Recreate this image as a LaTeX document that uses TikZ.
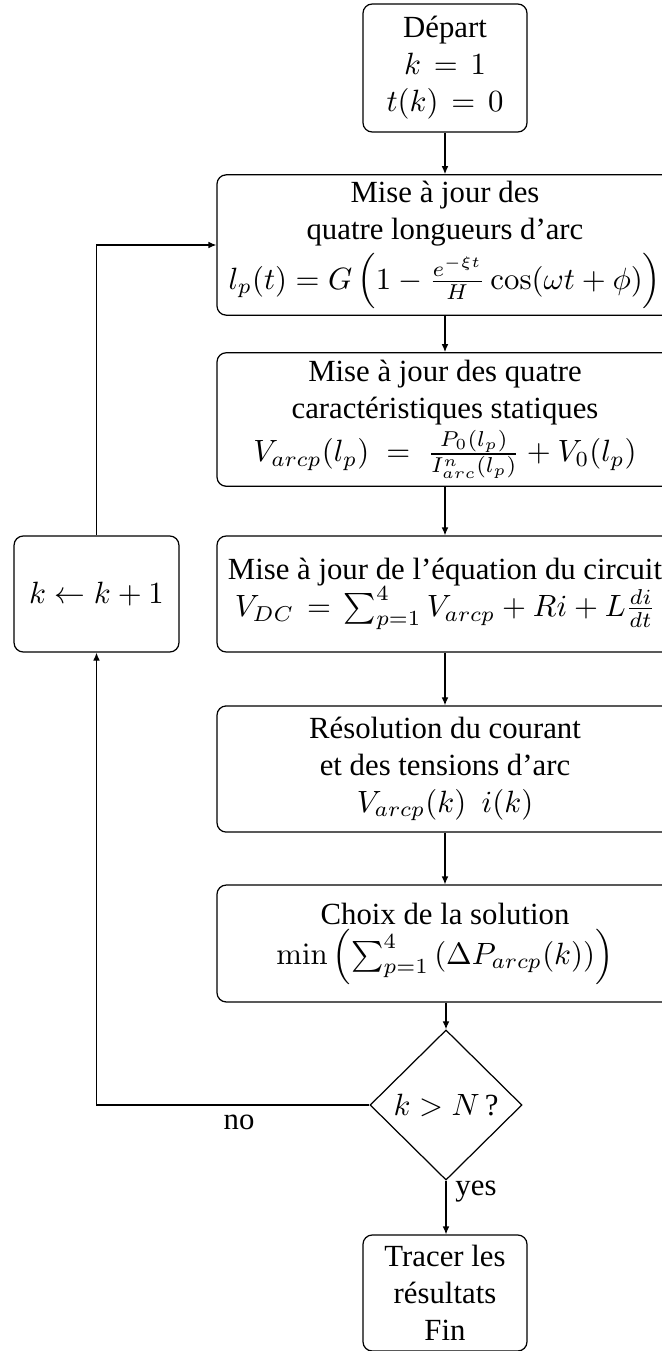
\documentclass[tikz,border=0pt]{standalone}
\usepackage{amsmath}
\usepackage[no-math]{fontspec}
\setmainfont{Liberation Serif}
\usetikzlibrary{shapes.geometric,arrows.meta}
\tikzset{
  box/.style={draw, rounded corners=3pt, align=center, inner sep=2pt, line width=0.4pt},
  decision/.style={draw, diamond, aspect=1, inner sep=1pt, line width=0.4pt},
  arr/.style={-{Latex[length=2.6pt,width=2.2pt]}, line width=0.4pt},
  lbl/.style={inner sep=0pt}
}
\newcommand{\weq}{\mskip2.5mu=\mskip2.5mu}
\begin{document}
\begin{tikzpicture}[x=0.325pt, y=-0.325pt]
\useasboundingbox (0,0) rectangle (662,1351);
\clip (0,0) rectangle (662,1351);
\node[box, minimum width=53.3pt, minimum height=41.6pt] (start) at (445,68)
  {Départ\\ $k\weq 1$\\ $t(k)\weq 0$};
\node[box, minimum width=148.2pt, minimum height=45.5pt] (b1) at (445,245)
  {Mise à jour des\\ quatre longueurs d'arc\\[1.5pt] $l_p(t) = G\left(1-\frac{e^{-\xi t}}{H}\cos(\omega t+\phi)\right)$};
\node[box, minimum width=148.2pt, minimum height=43.4pt] (b2) at (445,419.5)
  {Mise à jour des quatre\\ caractéristiques statiques\\[0.5pt] $V_{arcp}(l_p)\;=\;\frac{P_0(l_p)}{I^n_{arc}(l_p)}+V_0(l_p)$};
\node[box, minimum width=148.2pt, minimum height=37.7pt] (b3) at (445,594)
  {Mise à jour de l'équation du circuit\\ $V_{DC}\weq\sum_{p=1}^4 V_{arcp}+Ri+L\frac{di}{dt}$};
\node[box, minimum width=148.2pt, minimum height=41pt] (b4) at (445,769)
  {Résolution du courant\\ et des tensions d'arc\\ $V_{arcp}(k)\ \ i(k)$};
\node[box, minimum width=148.2pt, minimum height=38pt] (b5) at (445,943.5)
  {Choix de la solution\\[1pt] $\min\left(\sum_{p=1}^4\left(\Delta P_{arcp}(k)\right)\right)$};
\node[decision, minimum width=49.4pt, minimum height=48.8pt] (dec) at (446,1105)
  {$k>N$\,?};
\node[box, minimum width=53.3pt, minimum height=37.7pt] (end) at (445,1293)
  {Tracer les\\ résultats\\ Fin};
\node[box, minimum width=53.6pt, minimum height=37.7pt] (kbox) at (96.5,594)
  {$k\leftarrow k+1$};
\node[lbl] (no) at (239,1122) {no};
\node[lbl] (yes) at (476,1192) {yes};
\draw[arr] (start) -- (b1);
\draw[arr] (b1) -- (b2);
\draw[arr] (b2) -- (b3);
\draw[arr] (b3) -- (b4);
\draw[arr] (b4) -- (b5);
\draw[arr] (b5.south -| dec.north) -- (dec.north);
\draw[arr] (dec.south) -- (dec.south |- end.north);
\draw[arr] (dec.west) -| (kbox.south);
\draw[arr] (kbox.north) |- (b1.west);
\end{tikzpicture}
\end{document}
